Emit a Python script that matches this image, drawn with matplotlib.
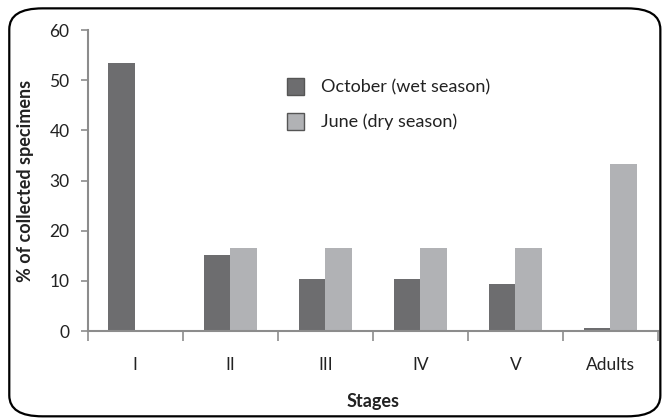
import numpy as np
import matplotlib
matplotlib.use("Agg")
import matplotlib.pyplot as plt
from matplotlib.patches import FancyBboxPatch

plt.rcParams["font.family"] = ["Lato", "DejaVu Sans"]

# data
stages = ["I", "II", "III", "IV", "V", "Adults"]
october_wet = [53.5, 15.1, 10.4, 10.4, 9.4, 0.7]
june_dry = [0.0, 16.6, 16.6, 16.6, 16.6, 33.3]

dark = "#6d6d6f"
light = "#b1b2b5"
axis_grey = "#8c8c8c"

fig = plt.figure(figsize=(6.63, 4.18), dpi=100)
ax = fig.add_axes([0.132, 0.208, 0.8605, 0.72])

x = np.arange(len(stages))
w = 0.28
ax.bar(x - w / 2, october_wet, width=w, color=dark, label="October (wet season)")
ax.bar(x + w / 2, june_dry, width=w, color=light, label="June (dry season)")

ax.set_xlim(-0.5, len(stages) - 0.5)
ax.set_ylim(0, 60)
ax.set_yticks(np.arange(0, 61, 10))

# ticks between categories, labels at the centres
ax.set_xticks(np.arange(-0.5, len(stages)), minor=False)
ax.set_xticklabels([])
ax.set_xticks(x, minor=True)
ax.set_xticklabels(stages, minor=True)
ax.tick_params(axis="x", which="major", length=7, width=1.2, color=axis_grey, direction="out")
ax.tick_params(axis="x", which="minor", length=0, pad=19, labelsize=12.5, labelcolor="#222222")
ax.tick_params(axis="y", length=5, width=1.2, color=axis_grey, pad=8, labelsize=12.5, labelcolor="#222222")

for side in ["top", "right"]:
    ax.spines[side].set_visible(False)
for side in ["left", "bottom"]:
    ax.spines[side].set_color(axis_grey)
    ax.spines[side].set_linewidth(1.5)

ax.set_ylabel("% of collected specimens", fontsize=13, fontweight="bold", color="#222222", labelpad=11)
ax.set_xlabel("Stages", fontsize=13, fontweight="bold", color="#222222", labelpad=14)

leg = ax.legend(loc="upper left", bbox_to_anchor=(0.35, 0.84), frameon=False,
                borderaxespad=0, borderpad=0,
                fontsize=13, handlelength=0.95, handleheight=1.05,
                handletextpad=0.9, labelspacing=0.95, labelcolor="#222222")
for h in leg.legend_handles:
    h.set_edgecolor("#555555")
    h.set_linewidth(1.0)

# rounded frame around the whole figure
frame = FancyBboxPatch((0.014, 0.004), 0.982, 0.976,
                       boxstyle="round,pad=0,rounding_size=0.05",
                       transform=fig.transFigure, fill=False,
                       edgecolor="black", linewidth=1.6)
fig.patches.append(frame)

fig.savefig("out.png", dpi=100)
